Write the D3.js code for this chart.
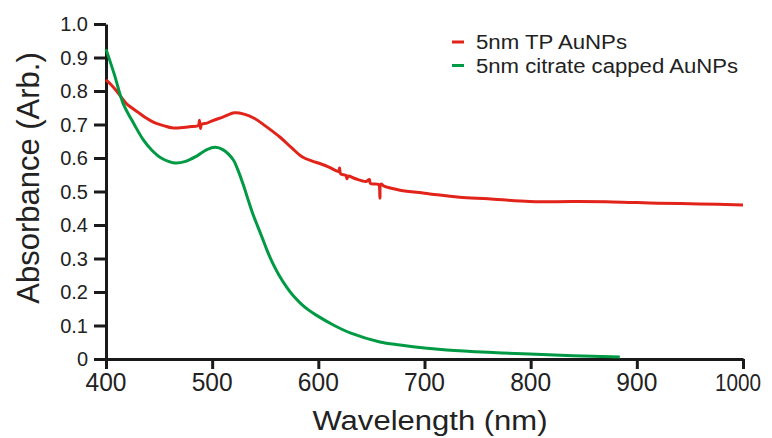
<!DOCTYPE html>
<html>
<head>
<meta charset="utf-8">
<script src="https://cdn.jsdelivr.net/npm/d3@7/dist/d3.min.js"></script>
<style>
    html, body {margin: 0; padding: 0; background: #fff; overflow: hidden;}
    svg {display: block; font-family: "Liberation Sans", Arial, sans-serif;}
</style>
</head>
<body>
<div id="container"></div>
<script>
// 数据：波长 (nm) 与吸光度
const tpWavelength = [400, 405, 410, 416, 420, 430, 437, 445, 455, 462, 470, 480, 487, 488, 489, 490, 495, 500, 510, 521, 530, 540, 550, 564, 575, 585, 595, 600, 610, 619, 620, 621, 626, 627, 628, 635, 645, 648, 649, 655, 657, 658, 659, 662, 677, 700, 712, 733, 760, 799, 840, 877, 920, 959, 1000];
const tpValue = [0.833, 0.818, 0.800, 0.775, 0.760, 0.737, 0.721, 0.706, 0.696, 0.690, 0.690, 0.694, 0.697, 0.713, 0.688, 0.700, 0.704, 0.711, 0.722, 0.735, 0.731, 0.718, 0.696, 0.662, 0.630, 0.603, 0.590, 0.585, 0.573, 0.560, 0.570, 0.553, 0.548, 0.538, 0.546, 0.538, 0.530, 0.536, 0.524, 0.522, 0.520, 0.480, 0.522, 0.516, 0.504, 0.495, 0.490, 0.483, 0.478, 0.470, 0.470, 0.469, 0.465, 0.463, 0.460];

const citWavelength = [400, 408, 416, 427, 435, 443, 452, 465, 475, 485, 495, 503, 510, 520, 524, 529, 533, 538, 543, 548, 552, 557, 563, 570, 576, 583, 590, 598, 615, 630, 658, 677, 700, 721, 760, 799, 840, 884];
const citValue = [0.925, 0.848, 0.764, 0.698, 0.655, 0.624, 0.600, 0.585, 0.590, 0.605, 0.625, 0.632, 0.625, 0.594, 0.566, 0.523, 0.484, 0.436, 0.395, 0.355, 0.322, 0.286, 0.250, 0.215, 0.190, 0.167, 0.148, 0.131, 0.100, 0.078, 0.051, 0.042, 0.033, 0.027, 0.020, 0.015, 0.010, 0.006];

const xTicks = [400, 500, 600, 700, 800, 900, 1000];
const yTicks = [0, 0.1, 0.2, 0.3, 0.4, 0.5, 0.6, 0.7, 0.8, 0.9, 1.0];

const seriesNames = ['5nm TP AuNPs', '5nm citrate capped AuNPs'];
const seriesColors = ['#e2231a', '#009a44'];

const CONFIG = {width: 772, height: 438};
const margin = {left: 106, right: 29, top: 24, bottom: 79};
const axisColor = '#1a1a1a';
const yFormat = d => d === 0 ? '0' : d3.format('.1f')(d);

const svg = d3.select('#container')
    .append('svg')
    .attr('width', CONFIG.width)
    .attr('height', CONFIG.height)
    .attr('viewBox', `0 0 ${CONFIG.width} ${CONFIG.height}`);

// 比例尺（直接使用画布坐标）
const xScale = d3.scaleLinear().domain([400, 1000])
    .range([margin.left, CONFIG.width - margin.right]);
const yScale = d3.scaleLinear().domain([0, 1])
    .range([CONFIG.height - margin.bottom, margin.top]);

// 坐标轴（刻度线由 d3.axis 绘制，刻度文字单独放在顶层）
const xAxisG = svg.append('g')
    .attr('transform', `translate(0,${yScale(0)})`)
    .call(d3.axisBottom(xScale)
        .tickValues(xTicks)
        .tickSize(10)
        .tickSizeOuter(0)
        .tickFormat(''));
const yAxisG = svg.append('g')
    .attr('transform', `translate(${xScale(400)},0)`)
    .call(d3.axisLeft(yScale)
        .tickValues(yTicks)
        .tickSize(12)
        .tickSizeOuter(0)
        .tickFormat(''));
[xAxisG, yAxisG].forEach(a => {
    a.select('.domain').attr('stroke', axisColor).attr('stroke-width', 3);
    a.selectAll('.tick line').attr('stroke', axisColor).attr('stroke-width', 3);
    a.selectAll('.tick text').remove();
});

svg.append('g')
    .selectAll('text')
    .data(xTicks)
    .enter()
    .append('text')
    .attr('x', d => d >= 1000 ? xScale(d) - 5 : xScale(d))
    .attr('y', yScale(0) + 32)
    .attr('text-anchor', 'middle')
    .attr('font-size', d => d >= 1000 ? 23 : 25)
    .attr('textLength', d => d >= 1000 ? 46 : 41)
    .attr('lengthAdjust', 'spacingAndGlyphs')
    .attr('fill', '#222')
    .text(d3.format('d'));

svg.append('g')
    .selectAll('text')
    .data(yTicks)
    .enter()
    .append('text')
    .attr('x', xScale(400) - 18)
    .attr('y', d => yScale(d) + 7)
    .attr('text-anchor', 'end')
    .attr('font-size', 20)
    .attr('fill', '#222')
    .text(yFormat);

// 曲线
const series = [
    tpWavelength.map((w, i) => ({x: w, y: tpValue[i]})),
    citWavelength.map((w, i) => ({x: w, y: citValue[i]}))
];
const line = d3.line()
    .x(d => xScale(d.x))
    .y(d => yScale(d.y))
    .curve(d3.curveCatmullRom.alpha(0.5));

svg.selectAll('.series')
    .data(series)
    .enter()
    .append('path')
    .attr('class', 'series')
    .attr('d', line)
    .attr('fill', 'none')
    .attr('stroke', (d, i) => seriesColors[i])
    .attr('stroke-width', 3)
    .attr('stroke-linejoin', 'round');

// 轴标题
svg.append('text')
    .attr('x', 430)
    .attr('y', 430)
    .attr('text-anchor', 'middle')
    .attr('font-size', 27)
    .attr('textLength', 235)
    .attr('lengthAdjust', 'spacingAndGlyphs')
    .attr('fill', '#222')
    .text('Wavelength (nm)');
svg.append('text')
    .attr('transform', 'translate(39,178) rotate(-90)')
    .attr('text-anchor', 'middle')
    .attr('font-size', 31)
    .attr('fill', '#222')
    .text('Absorbance (Arb.)');

// 图例
seriesNames.forEach((name, i) => {
    const y = 42 + i * 23.5;
    svg.append('line')
        .attr('x1', 452).attr('x2', 464)
        .attr('y1', y).attr('y2', y)
        .attr('stroke', seriesColors[i])
        .attr('stroke-width', 3);
    svg.append('text')
        .attr('x', 476)
        .attr('y', y + 7)
        .attr('font-size', 20)
        .attr('textLength', i === 0 ? 151 : 262)
        .attr('lengthAdjust', 'spacingAndGlyphs')
        .attr('fill', '#222')
        .text(name);
});
</script>
</body>
</html>
